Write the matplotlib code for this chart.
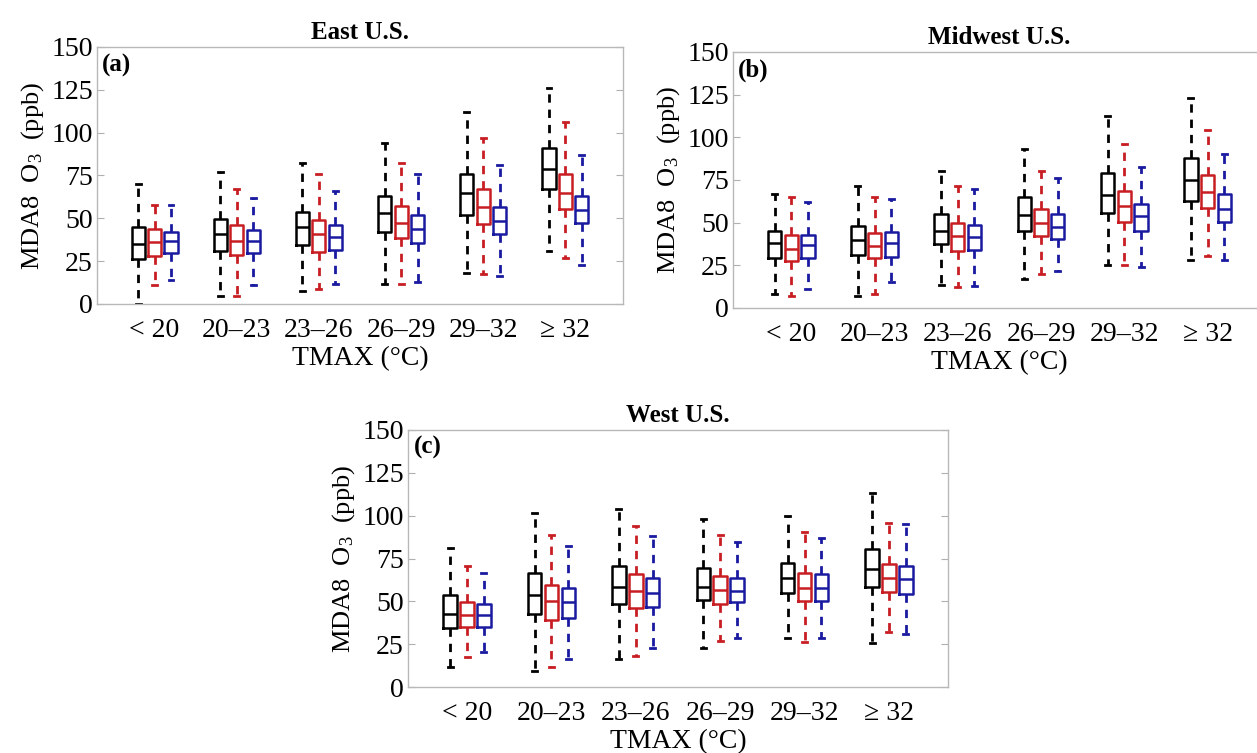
import matplotlib
matplotlib.use('Agg')
import matplotlib.pyplot as plt

plt.rcParams['font.family'] = ['Liberation Serif', 'DejaVu Serif']
plt.rcParams['mathtext.fontset'] = 'custom'
plt.rcParams['mathtext.rm'] = 'Liberation Serif'
plt.rcParams['mathtext.it'] = 'Liberation Serif:italic'

# temperature bins
categories = ['< 20', '20–23', '23–26', '26–29', '29–32', '≥ 32']

# each row: [whisker low, q1, median, q3, whisker high]
east_black = [[0, 26, 35, 45, 70], [4.5, 30.7, 41, 49.6, 77], [7.8, 34.6, 45, 53.7, 82],
              [11.7, 42, 53, 63, 94], [18, 52, 65, 76, 112], [31, 67, 78.5, 91, 126]]
east_red = [[11, 28, 36, 43.5, 58], [4.5, 28.3, 37, 46, 67], [8.8, 30.3, 41, 48.8, 76],
            [11.7, 38.5, 47, 57, 82], [17.6, 46.5, 56.6, 67, 97], [26.8, 55.7, 64.5, 76, 106]]
east_blue = [[14, 29.7, 36.5, 42, 58], [11, 29.7, 36.7, 43, 62], [11.7, 31.6, 39, 46, 66],
             [12.7, 35.7, 44, 52, 76], [16.6, 40.6, 48.4, 56.6, 81], [22.5, 47, 54.7, 63, 87]]

midwest_black = [[8, 29, 37.8, 45, 66.7], [6.8, 31.3, 39.7, 48, 71.6], [13.3, 37.4, 45, 54.8, 80],
                 [17.2, 45.2, 54.4, 64.8, 93], [25.4, 55.8, 66, 79, 112.5], [28.4, 62.6, 75, 88, 123]]
midwest_red = [[6.8, 27.4, 34.8, 42.7, 65], [8.4, 29, 36.2, 44, 65], [12.3, 33.5, 42, 50, 71.6],
               [20, 42.3, 49.5, 57.7, 80], [25.4, 50.5, 60, 68.7, 96], [30.3, 58.7, 68, 77.9, 104]]
midwest_blue = [[11.4, 29, 36.8, 42.7, 61.8], [15.3, 30, 37.8, 44.6, 63.6], [13, 33.9, 41.7, 48.5, 69.7],
                [21.5, 40.3, 47.5, 55, 76], [24, 45.2, 54, 60.7, 82.8], [28.4, 50.5, 57.7, 66.7, 90]]

west_black = [[11.5, 34.4, 42.5, 53.8, 81], [9.5, 42.5, 53.8, 66.8, 101.7], [16.3, 48.3, 58.6, 70.7, 103.9],
              [22.7, 50.5, 58.6, 69.7, 98], [28.5, 54.8, 63.5, 72.6, 99.8], [25.6, 58.6, 68.7, 80.6, 113.4]]
west_red = [[17.5, 35.3, 42, 49.5, 70.9], [11.5, 39.2, 50.3, 59.6, 88.7], [18.3, 46, 56.1, 65.8, 94],
            [26.6, 48.3, 56.7, 64.9, 88.7], [26.2, 50.3, 57.7, 66.8, 90.7], [32.4, 55.3, 63.5, 71.8, 95.9]]
west_blue = [[20.4, 35.3, 42, 48.5, 66.8], [16.5, 40.2, 49.9, 57.7, 82.5], [22.7, 46.6, 55.1, 63.5, 88.2],
             [28.5, 49.5, 56.3, 63.5, 84.5], [28.5, 50.3, 57.7, 65.8, 87.2], [30.9, 54.4, 62.9, 70.7, 95]]

colors = ['black', '#c81e23', '#1a1aa0']
offsets = [-0.2, 0.0, 0.2]


def draw_panel(ax, series, title, label):
    for s, (rows, c, off) in enumerate(zip(series, colors, offsets)):
        stats = [dict(whislo=r[0], q1=r[1], med=r[2], q3=r[3], whishi=r[4]) for r in rows]
        pos = [i + 1 + off for i in range(len(rows))]
        ax.bxp(stats, positions=pos, widths=0.16, capwidths=0.06, showfliers=False,
               boxprops=dict(color=c, lw=1.8),
               medianprops=dict(color=c, lw=1.8),
               whiskerprops=dict(color=c, lw=2.0, ls=(0, (3, 2.5))),
               capprops=dict(color=c, lw=2.0))
    ax.set_xlim(0.3, 6.7)
    ax.set_ylim(0, 150)
    ax.set_yticks([0, 25, 50, 75, 100, 125, 150])
    ax.set_xticks(range(1, 7))
    ax.set_xticklabels(categories)
    ax.tick_params(axis='both', labelsize=20, direction='in', length=5, color='#b0b0b0')
    ax.tick_params(axis='x', length=0, pad=10)
    ax.tick_params(axis='y', right=True, pad=3)
    for sp in ax.spines.values():
        sp.set_color('#b8b8b8')
        sp.set_linewidth(1.0)
    ax.set_title(title, fontsize=18, fontweight='bold', pad=6)
    ax.set_xlabel('TMAX (°C)', fontsize=20, labelpad=2)
    ax.set_ylabel('MDA8  O$_3$  (ppb)', fontsize=19, labelpad=4)
    ax.text(0.01, 0.975, label, transform=ax.transAxes, fontsize=18, fontweight='bold',
            va='top', ha='left')


fig = plt.figure(figsize=(12.57, 7.53), dpi=100)
ax_a = fig.add_axes([0.0772, 0.5963, 0.4184, 0.3413])
ax_b = fig.add_axes([0.5831, 0.5910, 0.4240, 0.3400])
ax_c = fig.add_axes([0.3246, 0.0876, 0.4296, 0.3414])

draw_panel(ax_a, [east_black, east_red, east_blue], 'East U.S.', '(a)')
draw_panel(ax_b, [midwest_black, midwest_red, midwest_blue], 'Midwest U.S.', '(b)')
draw_panel(ax_c, [west_black, west_red, west_blue], 'West U.S.', '(c)')

fig.savefig('out.png', dpi=100)
